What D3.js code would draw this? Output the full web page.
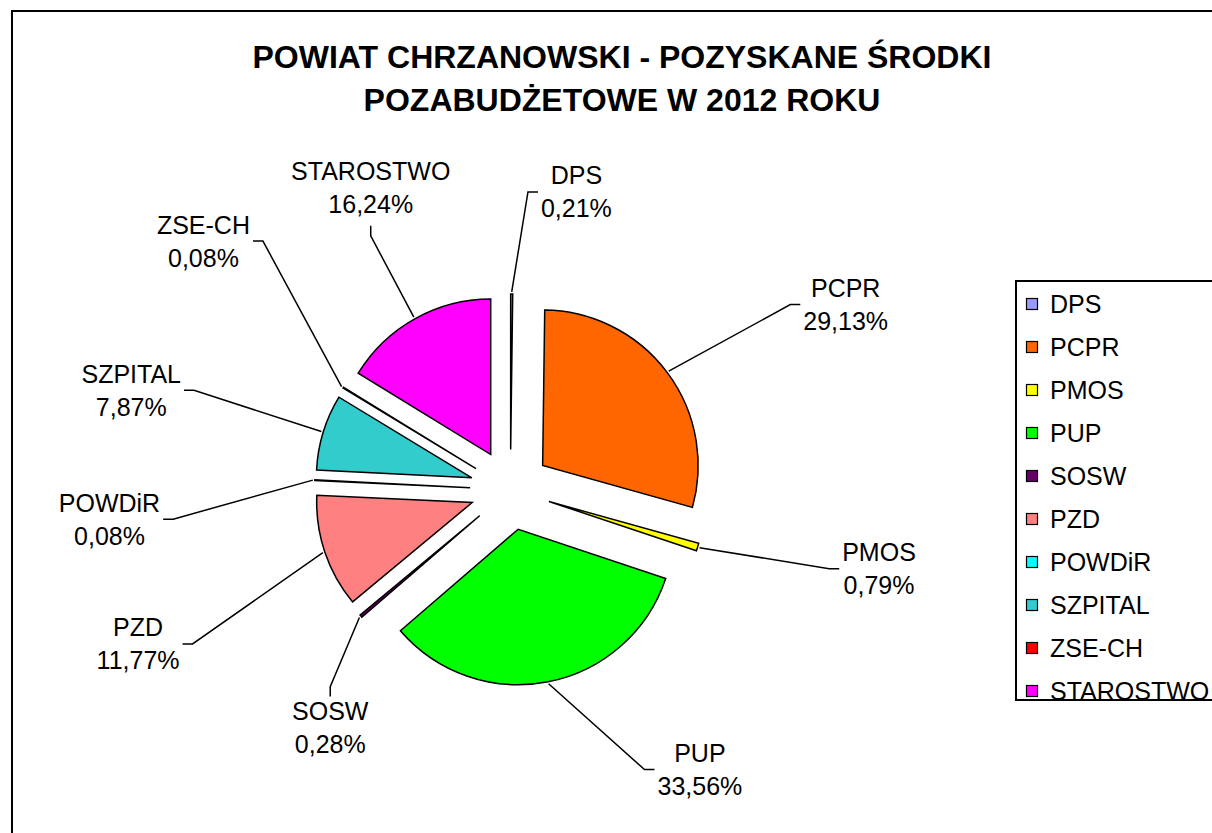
<!DOCTYPE html>
<html>
<head>
<meta charset="utf-8">
<script src="https://cdn.jsdelivr.net/npm/d3@7"></script>
<style>
  body { margin: 0; background: #fff; overflow: hidden; }
  text { font-family: "Liberation Sans", Arial, sans-serif; fill: #000; }
</style>
</head>
<body>
<div id="pie-container"></div>
<script>
//data
var categories = ['DPS', 'PCPR', 'PMOS', 'PUP', 'SOSW', 'PZD', 'POWDiR', 'SZPITAL', 'ZSE-CH', 'STAROSTWO'];
var shares = [0.21, 29.13, 0.79, 33.56, 0.28, 11.77, 0.08, 7.87, 0.08, 16.24];
var sliceColors = ['#9999FF', '#FF6600', '#FFFF00', '#00FF00', '#660066', '#FF8080', '#00FFFF', '#33CCCC', '#FF0000', '#FF00FF'];
var titleLines = ['POWIAT CHRZANOWSKI - POZYSKANE ŚRODKI', 'POZABUDŻETOWE W 2012 ROKU'];

//label layout (angle from 12 o'clock, distance from pie centre, edge the leader meets)
var labelAngles = [12.5, 61.1, 102.1, 145.9, 217.2, 247.5, 265.8, 284.7, 309, 335.2];
var labelDists = [305, 383, 377, 338, 298, 403, 402, 392, 395, 333];
var leaderEdges = ['left', 'left', 'left', 'left', 'top', 'right', 'right', 'right', 'right', 'bottom'];

//containers
var pieContainer = d3.select('#pie-container'),
    pieSvg,
    pieG;

//sizes
var outerW = 1212,
    outerH = 833,
    pieCx = 510.4,
    pieCy = 489.7,
    pieR = 155.5,
    explode = 40.3,
    labelSize = 25,
    lineStep = 33;

//scales
var colorScale,
    legendYScale;

function fmtPct(v) {
    return v.toFixed(2).replace('.', ',') + '%';
}

function dirOf(a) {
    return [Math.sin(a), -Math.cos(a)];
}

function buildChart() {
    pieSvg = pieContainer.append('svg')
        .attr('width', outerW)
        .attr('height', outerH);

    //chart frame, runs off the right and bottom like the original
    pieSvg.append('rect')
        .attr('x', 12)
        .attr('y', 11)
        .attr('width', 1220)
        .attr('height', 900)
        .attr('fill', '#fff')
        .attr('stroke', '#000')
        .attr('stroke-width', 2);

    //title
    pieSvg.selectAll('.pie-title')
        .data(titleLines)
        .enter()
        .append('text')
        .attr('class', 'pie-title')
        .attr('x', 622)
        .attr('y', function(d, i) { return 68 + i * 43; })
        .attr('text-anchor', 'middle')
        .style('font-size', '32px')
        .style('font-weight', 'bold')
        .text(function(d) { return d; });

    var total = d3.sum(shares);
    var pieData = d3.pie().sort(null).value(function(d) { return d; })(shares);
    var arc = d3.arc().innerRadius(0).outerRadius(pieR);

    pieG = pieSvg.append('g')
        .attr('transform', 'translate(' + pieCx + ', ' + pieCy + ')');

    pieG.selectAll('.pie-slice')
        .data(pieData)
        .enter()
        .append('path')
        .attr('class', 'pie-slice')
        .attr('transform', function(d) {
            var m = dirOf((d.startAngle + d.endAngle) / 2);
            return 'translate(' + (m[0] * explode) + ', ' + (m[1] * explode) + ')';
        })
        .attr('d', arc)
        .attr('fill', function(d, i) { return colorScale(categories[i]); })
        .attr('stroke', '#000')
        .attr('stroke-width', 1.5)
        .attr('stroke-linejoin', 'miter');

    //labels + leaders
    var capH = labelSize * 0.716,
        halfH = (capH + lineStep) / 2;
    pieData.forEach(function(d, i) {
        var la = labelAngles[i] * Math.PI / 180,
            ld = dirOf(la),
            cx = ld[0] * labelDists[i],
            cy = ld[1] * labelDists[i];

        var lg = pieG.append('g').attr('class', 'pie-label');
        var t1 = lg.append('text')
            .attr('x', cx)
            .attr('y', cy - halfH + capH)
            .attr('text-anchor', 'middle')
            .style('font-size', labelSize + 'px')
            .text(categories[i]);
        var t2 = lg.append('text')
            .attr('x', cx)
            .attr('y', cy + halfH)
            .attr('text-anchor', 'middle')
            .style('font-size', labelSize + 'px')
            .text(fmtPct(d.value / total * 100));

        var w = Math.max(t1.node().getComputedTextLength(), t2.node().getComputedTextLength()),
            left = cx - w / 2,
            right = cx + w / 2,
            top = cy - halfH,
            bottom = cy + halfH;

        var mid = (d.startAngle + d.endAngle) / 2,
            md = dirOf(mid),
            sx = md[0] * (explode + pieR + 2),
            sy = md[1] * (explode + pieR + 2);

        var end, elbow;
        if (leaderEdges[i] == 'left') {
            end = [left - 3, cy]; elbow = [left - 13, cy];
        } else if (leaderEdges[i] == 'right') {
            end = [right + 3, cy]; elbow = [right + 13, cy];
        } else if (leaderEdges[i] == 'top') {
            end = [cx, top - 5]; elbow = [cx, top - 15];
        } else {
            end = [cx, bottom + 13]; elbow = [cx, bottom + 23];
        }

        lg.append('path')
            .attr('d', d3.line()([[sx, sy], elbow, end]))
            .attr('fill', 'none')
            .attr('stroke', '#000')
            .attr('stroke-width', 1.5);
    });

    //legend
    var legendG = pieSvg.append('g')
        .attr('class', 'pie-legend');

    legendG.append('rect')
        .attr('x', 1016)
        .attr('y', 281)
        .attr('width', 230)
        .attr('height', 419)
        .attr('fill', '#fff')
        .attr('stroke', '#000')
        .attr('stroke-width', 2);

    var items = legendG.selectAll('.legend-item')
        .data(categories)
        .enter()
        .append('g')
        .attr('class', 'legend-item')
        .attr('transform', function(d) { return 'translate(0, ' + legendYScale(d) + ')'; });

    items.append('rect')
        .attr('x', 1026.5)
        .attr('y', -5.5)
        .attr('width', 11)
        .attr('height', 11)
        .attr('fill', function(d) { return colorScale(d); })
        .attr('stroke', '#000')
        .attr('stroke-width', 1.2);

    items.append('text')
        .attr('x', 1050)
        .attr('y', 9)
        .style('font-size', '25px')
        .text(function(d) { return d; });
}

function setupChart() {
    colorScale = d3.scaleOrdinal().domain(categories).range(sliceColors);
    legendYScale = d3.scalePoint().domain(categories).range([304, 691]);
    buildChart();
}

setupChart();
</script>
</body>
</html>
